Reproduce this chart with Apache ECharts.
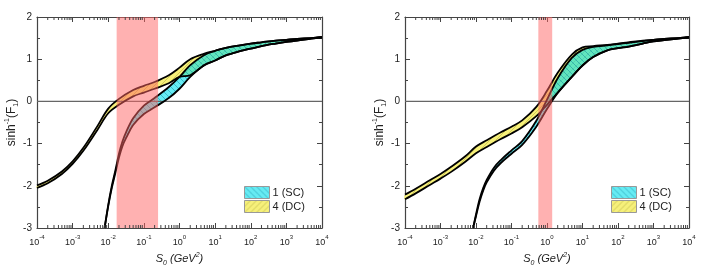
<!DOCTYPE html>
<html><head><meta charset="utf-8">
<script src="https://cdn.jsdelivr.net/npm/echarts/dist/echarts.min.js"></script>
<style>html,body{margin:0;padding:0;background:#fff}#c{width:706px;height:273px}</style>
</head><body><div id="c"></div>
<script>
// ---------- data ----------
const seriesNames = ['1 (SC)', '4 (DC)'];
const xTickExponents = ['-4','-3','-2','-1','0','1','2','3','4'];
const yTickValues = [-3, -2, -1, 0, 1, 2];

// left panel
const leftDC_x     = [1e-4, 2e-4, 5e-4, 1e-3, 2e-3, 5e-3, 0.01, 0.02, 0.05, 0.1, 0.2, 0.5, 1, 2, 5, 10, 20, 50, 100, 200, 500, 1000, 2000, 5000, 1e4];
const leftDC_upper = [-1.99, -1.88, -1.66, -1.42, -1.10, -0.58, -0.17, 0.06, 0.27, 0.37, 0.46, 0.62, 0.80, 1.00, 1.13, 1.20, 1.27, 1.33, 1.37, 1.40, 1.44, 1.46, 1.48, 1.50, 1.52];
const leftDC_lower = [-2.05, -1.94, -1.72, -1.48, -1.17, -0.67, -0.28, -0.08, 0.12, 0.21, 0.30, 0.43, 0.58, 0.62, 0.86, 0.97, 1.09, 1.19, 1.25, 1.31, 1.37, 1.41, 1.44, 1.49, 1.52];

const leftSC_x     = [0.0079, 0.01, 0.0126, 0.016, 0.02, 0.025, 0.032, 0.05, 0.1, 0.2, 0.5, 1, 2, 5, 10, 20, 50, 100, 200, 500, 1000, 2000, 5000, 1e4];
const leftSC_upper = [-3.0, -2.45, -2.0, -1.62, -1.24, -0.95, -0.72, -0.40, -0.10, 0.08, 0.34, 0.58, 0.86, 1.10, 1.20, 1.27, 1.33, 1.37, 1.40, 1.44, 1.46, 1.48, 1.50, 1.52];
const leftSC_lower = [-3.0, -2.48, -2.05, -1.68, -1.33, -1.06, -0.86, -0.56, -0.30, -0.14, 0.08, 0.30, 0.58, 0.86, 0.97, 1.09, 1.19, 1.25, 1.31, 1.37, 1.41, 1.44, 1.49, 1.52];

const leftShade = [0.0172, 0.25];

// right panel
const rightDC_x     = [1e-4, 2e-4, 5e-4, 1e-3, 2e-3, 5e-3, 0.01, 0.02, 0.05, 0.1, 0.2, 0.5, 1, 2, 5, 10, 20, 50, 100, 200, 500, 1000, 2000, 5000, 1e4];
const rightDC_upper = [-2.21, -2.07, -1.87, -1.72, -1.55, -1.30, -1.07, -0.92, -0.73, -0.60, -0.45, -0.13, 0.25, 0.68, 1.11, 1.28, 1.31, 1.34, 1.37, 1.40, 1.44, 1.46, 1.48, 1.50, 1.52];
const rightDC_lower = [-2.32, -2.18, -1.98, -1.83, -1.67, -1.43, -1.23, -1.08, -0.89, -0.76, -0.61, -0.35, -0.08, 0.21, 0.58, 0.85, 1.05, 1.21, 1.26, 1.30, 1.37, 1.42, 1.45, 1.49, 1.52];

const rightSC_x     = [0.0083, 0.01, 0.0126, 0.016, 0.02, 0.032, 0.05, 0.1, 0.2, 0.5, 1, 2, 5, 10, 20, 50, 100, 200, 500, 1000, 2000, 5000, 1e4];
const rightSC_upper = [-3.0, -2.68, -2.32, -2.05, -1.86, -1.57, -1.39, -1.16, -0.94, -0.46, 0.04, 0.55, 1.03, 1.22, 1.29, 1.33, 1.36, 1.39, 1.43, 1.46, 1.48, 1.50, 1.52];
const rightSC_lower = [-3.0, -2.72, -2.38, -2.11, -1.92, -1.64, -1.46, -1.24, -1.03, -0.60, -0.18, 0.20, 0.58, 0.85, 1.05, 1.21, 1.26, 1.30, 1.37, 1.42, 1.45, 1.49, 1.52];

const rightShade = [0.57, 1.4];

// ---------- styling ----------
const FONT = "'Liberation Sans', Arial, sans-serif";
const AXIS_COLOR = '#444';
const TEXT_COLOR = '#222';
const SMOOTH = 0.35;

function makePattern(fill, line, dir) {
  const c = document.createElement('canvas');
  c.width = 6; c.height = 6;
  const g = c.getContext('2d');
  g.fillStyle = fill; g.fillRect(0, 0, 6, 6);
  g.strokeStyle = line; g.lineWidth = 0.8;
  g.beginPath();
  if (dir > 0) { g.moveTo(-1, 7); g.lineTo(7, -1); g.moveTo(-1, 1); g.lineTo(1, -1); g.moveTo(5, 7); g.lineTo(7, 5); }
  else { g.moveTo(-1, -1); g.lineTo(7, 7); g.moveTo(5, -1); g.lineTo(7, 1); g.moveTo(-1, 5); g.lineTo(1, 7); }
  g.stroke();
  return { image: c, repeat: 'repeat' };
}
const scPattern = makePattern('rgba(0,222,235,0.6)', 'rgba(0,120,150,0.55)', -1);
const dcPattern = makePattern('#f6f07a', '#c8c050', 1);

function bandFill(xs, up, lo, pattern) {
  return function (params, api) {
    const pts = [];
    for (let i = 0; i < xs.length; i++) pts.push(api.coord([xs[i], up[i]]));
    for (let i = xs.length - 1; i >= 0; i--) {
      if ((i === xs.length - 1 || i === 0) && up[i] === lo[i]) continue;
      pts.push(api.coord([xs[i], lo[i]]));
    }
    return { type: 'polygon', shape: { points: pts, smooth: SMOOTH }, style: { fill: pattern } };
  };
}
function bandEdges(xs, up, lo) {
  return function (params, api) {
    const a = xs.map((x, i) => api.coord([x, up[i]]));
    const b = xs.map((x, i) => api.coord([x, lo[i]]));
    const st = { stroke: '#000', lineWidth: 1.8, fill: null, lineJoin: 'round' };
    return { type: 'group', children: [
      { type: 'polyline', shape: { points: a, smooth: SMOOTH }, style: st },
      { type: 'polyline', shape: { points: b, smooth: SMOOTH }, style: st }
    ]};
  };
}
function shadeRect(range) {
  return function (params, api) {
    const p0 = api.coord([range[0], 2]);
    const p1 = api.coord([range[1], -3]);
    return { type: 'rect', shape: { x: p0[0], y: p0[1], width: p1[0] - p0[0], height: p1[1] - p0[1] },
      style: { fill: 'rgba(255,100,100,0.5)' } };
  };
}
function minorTicks(params, api) {
  const ch = [];
  for (let k = -4; k < 4; k++) {
    for (let m = 2; m <= 9; m++) {
      const v = m * Math.pow(10, k);
      const b = api.coord([v, -3]);
      const t = api.coord([v, 2]);
      ch.push({ type: 'line', shape: { x1: b[0], y1: b[1], x2: b[0], y2: b[1] - 3 }, style: { stroke: AXIS_COLOR, lineWidth: 1 } });
      ch.push({ type: 'line', shape: { x1: t[0], y1: t[1], x2: t[0], y2: t[1] + 3 }, style: { stroke: AXIS_COLOR, lineWidth: 1 } });
    }
  }
  return { type: 'group', children: ch };
}

const xRich = {
  a: { fontSize: 9, fontFamily: FONT, color: TEXT_COLOR, lineHeight: 13, verticalAlign: 'bottom' },
  b: { fontSize: 6, fontFamily: FONT, color: TEXT_COLOR, lineHeight: 13, verticalAlign: 'top' }
};
const nameRichX = {
  i: { fontSize: 11, fontStyle: 'italic', fontFamily: FONT, color: TEXT_COLOR, lineHeight: 15 },
  sub: { fontSize: 7, fontStyle: 'italic', fontFamily: FONT, color: TEXT_COLOR, lineHeight: 15, verticalAlign: 'bottom' },
  sup: { fontSize: 7, fontStyle: 'italic', fontFamily: FONT, color: TEXT_COLOR, lineHeight: 15, verticalAlign: 'top' }
};
const nameRichY = {
  n: { fontSize: 12, fontFamily: FONT, color: TEXT_COLOR, lineHeight: 16 },
  sup: { fontSize: 7, fontFamily: FONT, color: TEXT_COLOR, lineHeight: 16, verticalAlign: 'top' },
  sub: { fontSize: 7, fontFamily: FONT, color: TEXT_COLOR, lineHeight: 16, verticalAlign: 'bottom' }
};

function xAx(grid, pos) {
  return {
    type: 'log', logBase: 10, gridIndex: grid, position: pos, min: 1e-4, max: 1e4, splitNumber: 8,
    axisLine: { show: true, onZero: false, lineStyle: { color: AXIS_COLOR, width: 1.2 } },
    axisTick: { show: true, inside: true, length: 5, lineStyle: { color: AXIS_COLOR, width: 1 } },
    axisLabel: { show: pos === 'bottom', margin: 6, rich: xRich,
      formatter: v => '{a|10}{b|' + xTickExponents[Math.round(Math.log10(v)) + 4] + '}' },
    splitLine: { show: false },
    name: pos === 'bottom' ? '{i|S}{sub|0}{i| (GeV}{sup|2}{i|)}' : '',
    nameLocation: 'middle', nameGap: 20, nameTextStyle: { rich: nameRichX }
  };
}
function yAx(grid, pos) {
  return {
    type: 'value', gridIndex: grid, position: pos, min: -3, max: 2, interval: 1,
    axisLine: { show: true, onZero: false, lineStyle: { color: AXIS_COLOR, width: 1.2 } },
    axisTick: { show: true, inside: true, length: 5, lineStyle: { color: AXIS_COLOR, width: 1 } },
    minorTick: { show: true, splitNumber: 2, length: 3, lineStyle: { color: AXIS_COLOR, width: 1 } },
    axisLabel: { show: pos === 'left', margin: 5, fontSize: 10, fontFamily: FONT, color: TEXT_COLOR,
      formatter: v => yTickValues.indexOf(v) >= 0 ? String(v) : '' },
    splitLine: { show: false },
    name: pos === 'left' ? '{n|sinh}{sup|-1}{n|(F}{sub|1}{n|)}' : '',
    nameLocation: 'middle', nameGap: 13, nameRotate: 90, nameTextStyle: { rich: nameRichY }
  };
}

function panelSeries(g, dcx, dcu, dcl, scx, scu, scl, shade) {
  const xi = g * 2, yi = g * 2;
  const base = { type: 'custom', coordinateSystem: 'cartesian2d', xAxisIndex: xi, yAxisIndex: yi, data: [[1, 0]], silent: true, animation: false };
  return [
    Object.assign({}, base, { name: seriesNames[1], z: 2, renderItem: bandFill(dcx, dcu, dcl, dcPattern),
      itemStyle: { color: dcPattern, borderColor: '#999', borderWidth: 1 } }),
    Object.assign({}, base, { name: seriesNames[0], z: 3, renderItem: bandFill(scx, scu, scl, scPattern),
      itemStyle: { color: scPattern, borderColor: '#999', borderWidth: 1 } }),
    { type: 'line', xAxisIndex: xi, yAxisIndex: yi, data: [[1e-4, 0], [1e4, 0]], symbol: 'none', silent: true,
      lineStyle: { color: '#666', width: 1.2 }, z: 4, animation: false },
    Object.assign({}, base, { z: 5, renderItem: bandEdges(dcx, dcu, dcl) }),
    Object.assign({}, base, { z: 6, renderItem: bandEdges(scx, scu, scl) }),
    Object.assign({}, base, { z: 7, renderItem: shadeRect(shade) }),
    Object.assign({}, base, { z: 8, renderItem: minorTicks })
  ];
}

function legendAt(left) {
  return {
    left: left, top: 186, orient: 'vertical', itemWidth: 25, itemHeight: 12, itemGap: 1, padding: 0,
    selectedMode: false, icon: 'rect',
    data: [
      { name: seriesNames[0], itemStyle: { color: scPattern, borderColor: '#999', borderWidth: 1 } },
      { name: seriesNames[1], itemStyle: { color: dcPattern, borderColor: '#999', borderWidth: 1 } }
    ],
    textStyle: { fontSize: 11, fontFamily: FONT, color: TEXT_COLOR, padding: [0, 0, 0, -2] }
  };
}

const chart = echarts.init(document.getElementById('c'), null, { renderer: 'canvas' });
chart.setOption({
  animation: false,
  backgroundColor: '#fff',
  grid: [
    { left: 37, top: 17, width: 285, height: 211 },
    { left: 405, top: 17, width: 284, height: 211 }
  ],
  xAxis: [xAx(0, 'bottom'), xAx(0, 'top'), xAx(1, 'bottom'), xAx(1, 'top')],
  yAxis: [yAx(0, 'left'), yAx(0, 'right'), yAx(1, 'left'), yAx(1, 'right')],
  legend: [legendAt(244), legendAt(611)],
  series: [].concat(
    panelSeries(0, leftDC_x, leftDC_upper, leftDC_lower, leftSC_x, leftSC_upper, leftSC_lower, leftShade),
    panelSeries(1, rightDC_x, rightDC_upper, rightDC_lower, rightSC_x, rightSC_upper, rightSC_lower, rightShade)
  )
});
</script></body></html>
